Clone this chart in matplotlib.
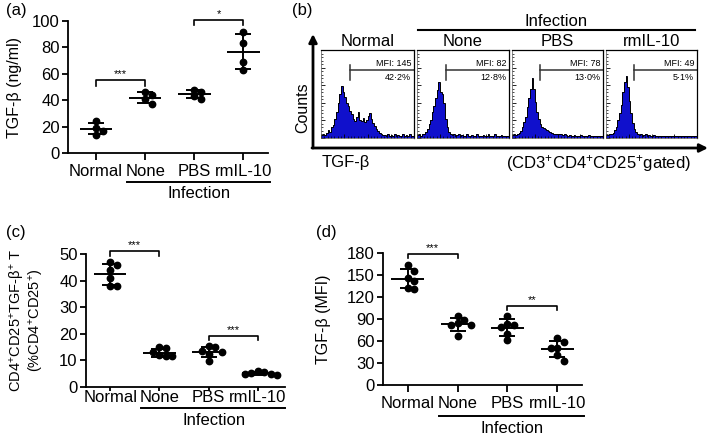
import matplotlib
matplotlib.use('Agg')
import matplotlib.pyplot as plt
import numpy as np

plt.rcParams['font.family'] = ['Liberation Sans', 'DejaVu Sans']
plt.rcParams['mathtext.fontset'] = 'custom'
plt.rcParams['mathtext.rm'] = 'Liberation Sans'
plt.rcParams['mathtext.default'] = 'regular'

groups = ['Normal', 'None', 'PBS', 'rmIL-10']

# (a) TGF-beta in supernatant, ng/ml
tgf_ngml = [[24, 19, 17, 14], [46, 44, 41, 37], [48, 46, 43, 41], [92, 83, 69, 63]]
# (c) % TGF-beta+ of CD4+CD25+
tgf_pct = [[47, 46, 44, 41, 38, 38], [15, 14.5, 13, 12, 11.5, 11.5],
           [15.3, 15, 13.5, 13, 12.5, 9.8], [6, 5.5, 5.2, 5, 4.8, 4.5]]
# (d) TGF-beta MFI
tgf_mfi = [[164, 156, 146, 142, 132, 131], [94, 88, 84, 82, 82, 67],
           [94, 83, 82, 79, 70, 61], [64, 58, 50, 50, 41, 33]]

# (b) flow histograms (relative counts, 56 bins)
hist_normal = [0.03, 0.05, 0.03, 0.06, 0.09, 0.07, 0.12, 0.15, 0.22, 0.30, 0.40, 0.50, 0.59, 0.52,
               0.47, 0.40, 0.36, 0.31, 0.27, 0.22, 0.19, 0.24, 0.30, 0.20, 0.19, 0.23, 0.18, 0.21,
               0.25, 0.28, 0.22, 0.17, 0.14, 0.10, 0.08, 0.06, 0.04, 0.03, 0.03, 0.02, 0.04, 0.02,
               0.03, 0.02, 0.05, 0.02, 0.03, 0.02, 0.02, 0.04, 0.02, 0.03, 0.02, 0.05, 0.02, 0.02]
hist_none = [0.03, 0.04, 0.02, 0.05, 0.04, 0.07, 0.10, 0.16, 0.21, 0.29, 0.36, 0.45, 0.55, 0.64,
             0.52, 0.50, 0.40, 0.22, 0.12, 0.07, 0.05, 0.03, 0.04, 0.02, 0.03, 0.05, 0.02, 0.03,
             0.02, 0.02, 0.04, 0.02, 0.02, 0.03, 0.02, 0.02, 0.04, 0.02, 0.02, 0.02, 0.03, 0.02,
             0.02, 0.05, 0.02, 0.02, 0.02, 0.04, 0.02, 0.02, 0.02, 0.03, 0.02, 0.02, 0.02, 0.02]
hist_pbs = [0.03, 0.04, 0.03, 0.05, 0.06, 0.08, 0.12, 0.18, 0.24, 0.35, 0.45, 0.56, 0.68, 0.56,
            0.41, 0.30, 0.22, 0.16, 0.13, 0.11, 0.10, 0.09, 0.08, 0.07, 0.06, 0.05, 0.05, 0.04,
            0.05, 0.04, 0.04, 0.03, 0.04, 0.03, 0.02, 0.03, 0.02, 0.02, 0.03, 0.02, 0.02, 0.02,
            0.03, 0.02, 0.02, 0.02, 0.02, 0.03, 0.02, 0.02, 0.02, 0.02, 0.02, 0.02, 0.02, 0.02]
hist_il10 = [0.03, 0.03, 0.04, 0.05, 0.06, 0.09, 0.12, 0.20, 0.28, 0.38, 0.52, 0.64, 0.71, 0.58,
             0.42, 0.28, 0.17, 0.10, 0.07, 0.05, 0.03, 0.04, 0.02, 0.03, 0.04, 0.02, 0.03, 0.02,
             0.02, 0.03, 0.02, 0.02, 0.02, 0.02, 0.02, 0.02, 0.02, 0.02, 0.02, 0.02, 0.02, 0.02,
             0.02, 0.02, 0.02, 0.02, 0.02, 0.02, 0.02, 0.02, 0.02, 0.02, 0.02, 0.02, 0.02, 0.02]
hists = [hist_normal, hist_none, hist_pbs, hist_il10]
mfi_labels = ['MFI: 145', 'MFI: 82', 'MFI: 78', 'MFI: 49']
pct_labels = ['42·2%', '12·8%', '13·0%', '5·1%']

W, H = 709, 437
fig = plt.figure(figsize=(W / 100, H / 100), dpi=100)


def rect(l, t, r, b):
    return [l / W, 1 - b / H, (r - l) / W, (b - t) / H]


def swarm(vals, ppu, upx, d=6.5):
    # simple beeswarm offsets, pixel based
    placed = []
    offs = []
    for v in vals:
        y = v * ppu
        for k in [0, 1, -1, 2, -2, 3, -3]:
            x = k * d
            if all((x - px) ** 2 + (y - py) ** 2 >= d * d for px, py in placed):
                break
        placed.append((x, y))
        offs.append(x / upx)
    return np.array(offs)


def dot_panel(box, data, ylim, yticks, xlim, sig, ylab, ylab_fs, labx, infl_y, inf_y,
              xlen=5, xpad=3):
    ax = fig.add_axes(rect(*box))
    hpx = box[3] - box[1]
    wpx = box[2] - box[0]
    ppu = hpx / (ylim[1] - ylim[0])
    upx = wpx / (xlim[1] - xlim[0])
    for i, vals in enumerate(data):
        vals = np.array(vals, dtype=float)
        m = vals.mean()
        s = vals.std(ddof=1)
        ax.plot(i + swarm(vals, ppu, upx), vals, 'o', color='k', ms=4.6, clip_on=False, zorder=3)
        ax.hlines(m, i - 0.33, i + 0.33, color='k', lw=1.4)
        ax.errorbar(i, m, yerr=s, fmt='none', ecolor='k', elinewidth=1.4,
                    capsize=5.5, capthick=1.4)
    for (a, b, y, dy, stars) in sig:
        ax.plot([a, a, b, b], [y - dy, y, y, y - dy], color='k', lw=1.2, clip_on=False)
        ax.text((a + b) / 2, y + dy * 0.2, stars, ha='center', va='bottom', fontsize=8)
    ax.set_xlim(*xlim)
    ax.set_ylim(*ylim)
    ax.set_yticks(yticks)
    ax.set_xticks(range(len(groups)))
    ax.set_xticklabels(groups)
    for sp in ['top', 'right']:
        ax.spines[sp].set_visible(False)
    for sp in ['left', 'bottom']:
        ax.spines[sp].set_linewidth(1.3)
    ax.tick_params(labelsize=12, width=1.3, length=4, pad=2)
    ax.tick_params(axis='x', length=xlen, pad=xpad)
    ax.set_ylabel(ylab, fontsize=ylab_fs, linespacing=1.05)
    ax.yaxis.set_label_coords(labx, 0.5)
    trans = ax.get_xaxis_transform()
    ax.plot([0.63, 3.55], [infl_y, infl_y], color='k', lw=1.4, transform=trans, clip_on=False)
    ax.text(2.1, inf_y, 'Infection', ha='center', va='center', fontsize=12, transform=trans)
    return ax


# (a)
dot_panel((68, 21, 268, 153), tgf_ngml, (0, 100), range(0, 101, 20), (-0.57, 3.5),
          [(0, 1, 55, 4, '***'), (2, 3, 101, 4, '*')],
          'TGF-β (ng/ml)', 11.5, -0.23, -0.22, -0.31)
# (c)
dot_panel((86, 254, 285, 387), tgf_pct, (0, 50), range(0, 51, 10), (-0.49, 3.55),
          [(0, 1, 51, 1.7, '***'), (2, 3, 19.3, 1.7, '***')],
          'CD4$^{+}$CD25$^{+}$TGF-β$^{+}$ T\n(%CD4$^{+}$CD25$^{+}$)', 10.5, -0.20,
          -0.16, -0.25, xlen=3, xpad=-1)
# (d)
dot_panel((383, 253, 582, 385), tgf_mfi, (0, 180), range(0, 181, 30), (-0.5, 3.5),
          [(0, 1, 179, 6, '***'), (2, 3, 108, 6, '**')],
          'TGF-β (MFI)', 11.5, -0.26, -0.235, -0.33)

# (b) histograms
box_l = [321, 417, 512, 606]
box_r = [414, 509, 603, 697]
nb = len(hist_normal)
edges = np.arange(nb + 1)
for i in range(4):
    ax = fig.add_axes(rect(box_l[i], 50, box_r[i], 138))
    ax.stairs(hists[i], edges, fill=True, color='#1010cc', lw=0)
    ax.stairs(hists[i], edges, color='k', lw=0.7)
    ax.set_xlim(0, nb)
    ax.set_ylim(0, 1)
    ax.set_xticks(np.arange(0, nb + 1, 14))
    ax.set_xticks(np.arange(0, nb + 1, 2), minor=True)
    ax.set_yticks(np.arange(0, 1.01, 0.2))
    ax.set_yticks(np.arange(0, 1.01, 0.04), minor=True)
    ax.tick_params(which='major', direction='in', length=3, width=0.6,
                   labelleft=False, labelbottom=False)
    ax.tick_params(which='minor', direction='in', length=1.5, width=0.5)
    for sp in ['top', 'right']:
        ax.spines[sp].set_linewidth(0.9)
    for sp in ['left', 'bottom']:
        ax.spines[sp].set_linewidth(0.5)
        ax.spines[sp].set_color('#555555')
    gx = 0.31
    ax.plot([gx, 1], [0.77, 0.77], color='#333333', lw=1.1, transform=ax.transAxes)
    ax.plot([gx, gx], [0.66, 0.83], color='#333333', lw=1.1, transform=ax.transAxes)
    ax.text(0.97, 0.79, mfi_labels[i], ha='right', va='bottom', fontsize=6.5,
            transform=ax.transAxes)
    ax.text(0.97, 0.74, pct_labels[i], ha='right', va='top', fontsize=6.5,
            transform=ax.transAxes)
    fig.text((box_l[i] + box_r[i]) / 2 / W, 1 - 42 / H, groups[i], ha='center', va='center',
             fontsize=12)

fig.text(556 / W, 1 - 21 / H, 'Infection', ha='center', va='center', fontsize=12)
fig.add_artist(plt.Line2D([418 / W, 695 / W], [1 - 30 / H, 1 - 30 / H], color='k', lw=1.5))
arrow = dict(arrowstyle='-|>', color='k', lw=2, mutation_scale=12, shrinkA=0, shrinkB=0)
plt.annotate('', xy=(313 / W, 1 - 34 / H), xytext=(313 / W, 1 - 148 / H),
             xycoords='figure fraction', arrowprops=arrow)
plt.annotate('', xy=(708 / W, 1 - 148 / H), xytext=(312 / W, 1 - 148 / H),
             xycoords='figure fraction', arrowprops=arrow)
fig.text(303 / W, 1 - 108 / H, 'Counts', rotation=90, ha='center', va='center', fontsize=11.5)
fig.text(322 / W, 1 - 163 / H, 'TGF-β', ha='left', va='center', fontsize=12)
fig.text(691 / W, 1 - 163 / H, '(CD3$^{+}$CD4$^{+}$CD25$^{+}$gated)', ha='right', va='center',
         fontsize=12)

# panel letters
fig.text(6 / W, 1 - 10 / H, '(a)', ha='left', va='center', fontsize=12)
fig.text(292 / W, 1 - 10 / H, '(b)', ha='left', va='center', fontsize=12)
fig.text(6 / W, 1 - 233 / H, '(c)', ha='left', va='center', fontsize=12)
fig.text(316 / W, 1 - 233 / H, '(d)', ha='left', va='center', fontsize=12)

fig.savefig('out.png', dpi=100)
